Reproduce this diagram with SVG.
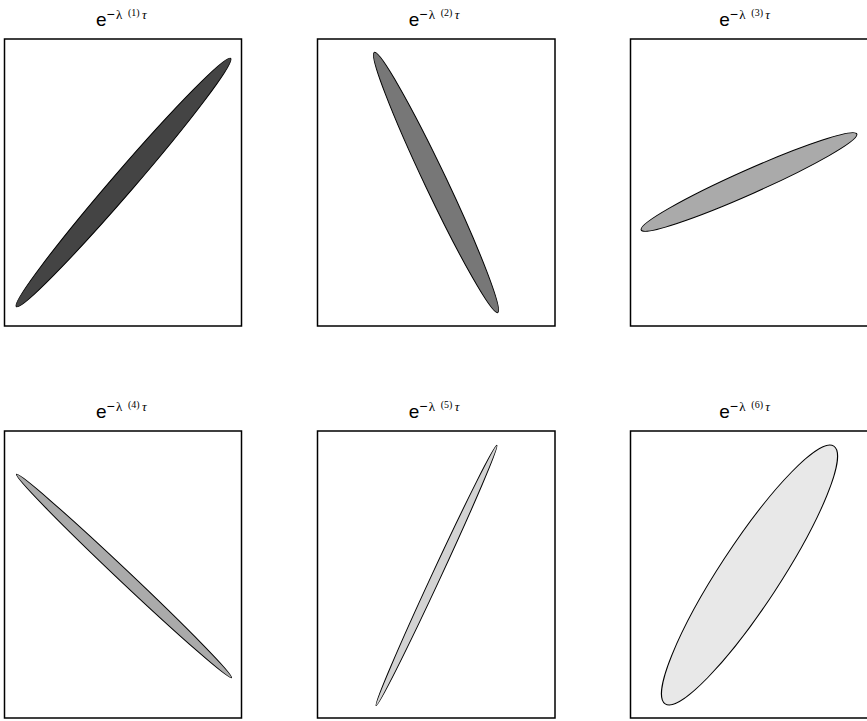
<svg xmlns="http://www.w3.org/2000/svg" width="867" height="721" viewBox="0 0 867 721">
<style>
.box{fill:#fff;stroke:#000;stroke-width:1.5}
.el{stroke:#000;stroke-width:1}
.t{font-family:"Liberation Sans",Arial,sans-serif;font-size:19px;fill:#000}
.m{font-size:14px}
.s{font-family:"Liberation Serif","Times New Roman",serif;font-size:13px}
.n{font-family:"Liberation Serif","Times New Roman",serif;font-size:10px}
.tau{font-family:"Liberation Serif","Times New Roman",serif;font-size:13px;font-style:italic}
</style>
<rect width="867" height="721" fill="#fff"/>
<g id="p1">
<text class="t" x="96" y="25.5">e<tspan class="m" x="106.5" y="19">−</tspan><tspan class="s" x="116" y="19">λ</tspan><tspan class="n" x="128" y="15.5">(1)</tspan><tspan class="tau" x="142" y="19">τ</tspan></text>
<rect class="box" x="4.5" y="39" width="237" height="287"/>
<ellipse class="el" fill="#444" cx="123.5" cy="182.5" rx="164" ry="11" transform="rotate(-49.2 123.5 182.5)"/>
</g>
<g id="p2">
<text class="t" x="408.7" y="25.5">e<tspan class="m" x="419.2" y="19">−</tspan><tspan class="s" x="428.7" y="19">λ</tspan><tspan class="n" x="440.7" y="15.5">(2)</tspan><tspan class="tau" x="454.7" y="19">τ</tspan></text>
<rect class="box" x="317.5" y="39" width="237.5" height="287"/>
<ellipse class="el" fill="#777" cx="436" cy="182.5" rx="144" ry="11" transform="rotate(64.6 436 182.5)"/>
</g>
<g id="p3">
<text class="t" x="719.3" y="25.5">e<tspan class="m" x="729.8" y="19">−</tspan><tspan class="s" x="739.3" y="19">λ</tspan><tspan class="n" x="751.3" y="15.5">(3)</tspan><tspan class="tau" x="765.3" y="19">τ</tspan></text>
<rect class="box" x="630.5" y="39" width="238" height="287"/>
<ellipse class="el" fill="#aaa" cx="749" cy="182" rx="118" ry="12" transform="rotate(-24 749 182)"/>
</g>
<g id="p4">
<text class="t" x="96" y="417.5">e<tspan class="m" x="106.5" y="411">−</tspan><tspan class="s" x="116" y="411">λ</tspan><tspan class="n" x="128" y="407.5">(4)</tspan><tspan class="tau" x="142" y="411">τ</tspan></text>
<rect class="box" x="4.5" y="431" width="237" height="287"/>
<ellipse class="el" fill="#aaa" cx="124" cy="576" rx="148" ry="6" transform="rotate(43.4 124 576)"/>
</g>
<g id="p5">
<text class="t" x="408.7" y="417.5">e<tspan class="m" x="419.2" y="411">−</tspan><tspan class="s" x="428.7" y="411">λ</tspan><tspan class="n" x="440.7" y="407.5">(5)</tspan><tspan class="tau" x="454.7" y="411">τ</tspan></text>
<rect class="box" x="317.5" y="431" width="237.5" height="287"/>
<ellipse class="el" fill="#d3d3d3" cx="436.5" cy="575.5" rx="143.5" ry="4.5" transform="rotate(-65.1 436.5 575.5)"/>
</g>
<g id="p6">
<text class="t" x="719.3" y="417.5">e<tspan class="m" x="729.8" y="411">−</tspan><tspan class="s" x="739.3" y="411">λ</tspan><tspan class="n" x="751.3" y="407.5">(6)</tspan><tspan class="tau" x="765.3" y="411">τ</tspan></text>
<rect class="box" x="630.5" y="431" width="238" height="287"/>
<ellipse class="el" fill="#e8e8e8" cx="749.5" cy="575" rx="154" ry="30" transform="rotate(-56.8 749.5 575)"/>
</g>
</svg>
